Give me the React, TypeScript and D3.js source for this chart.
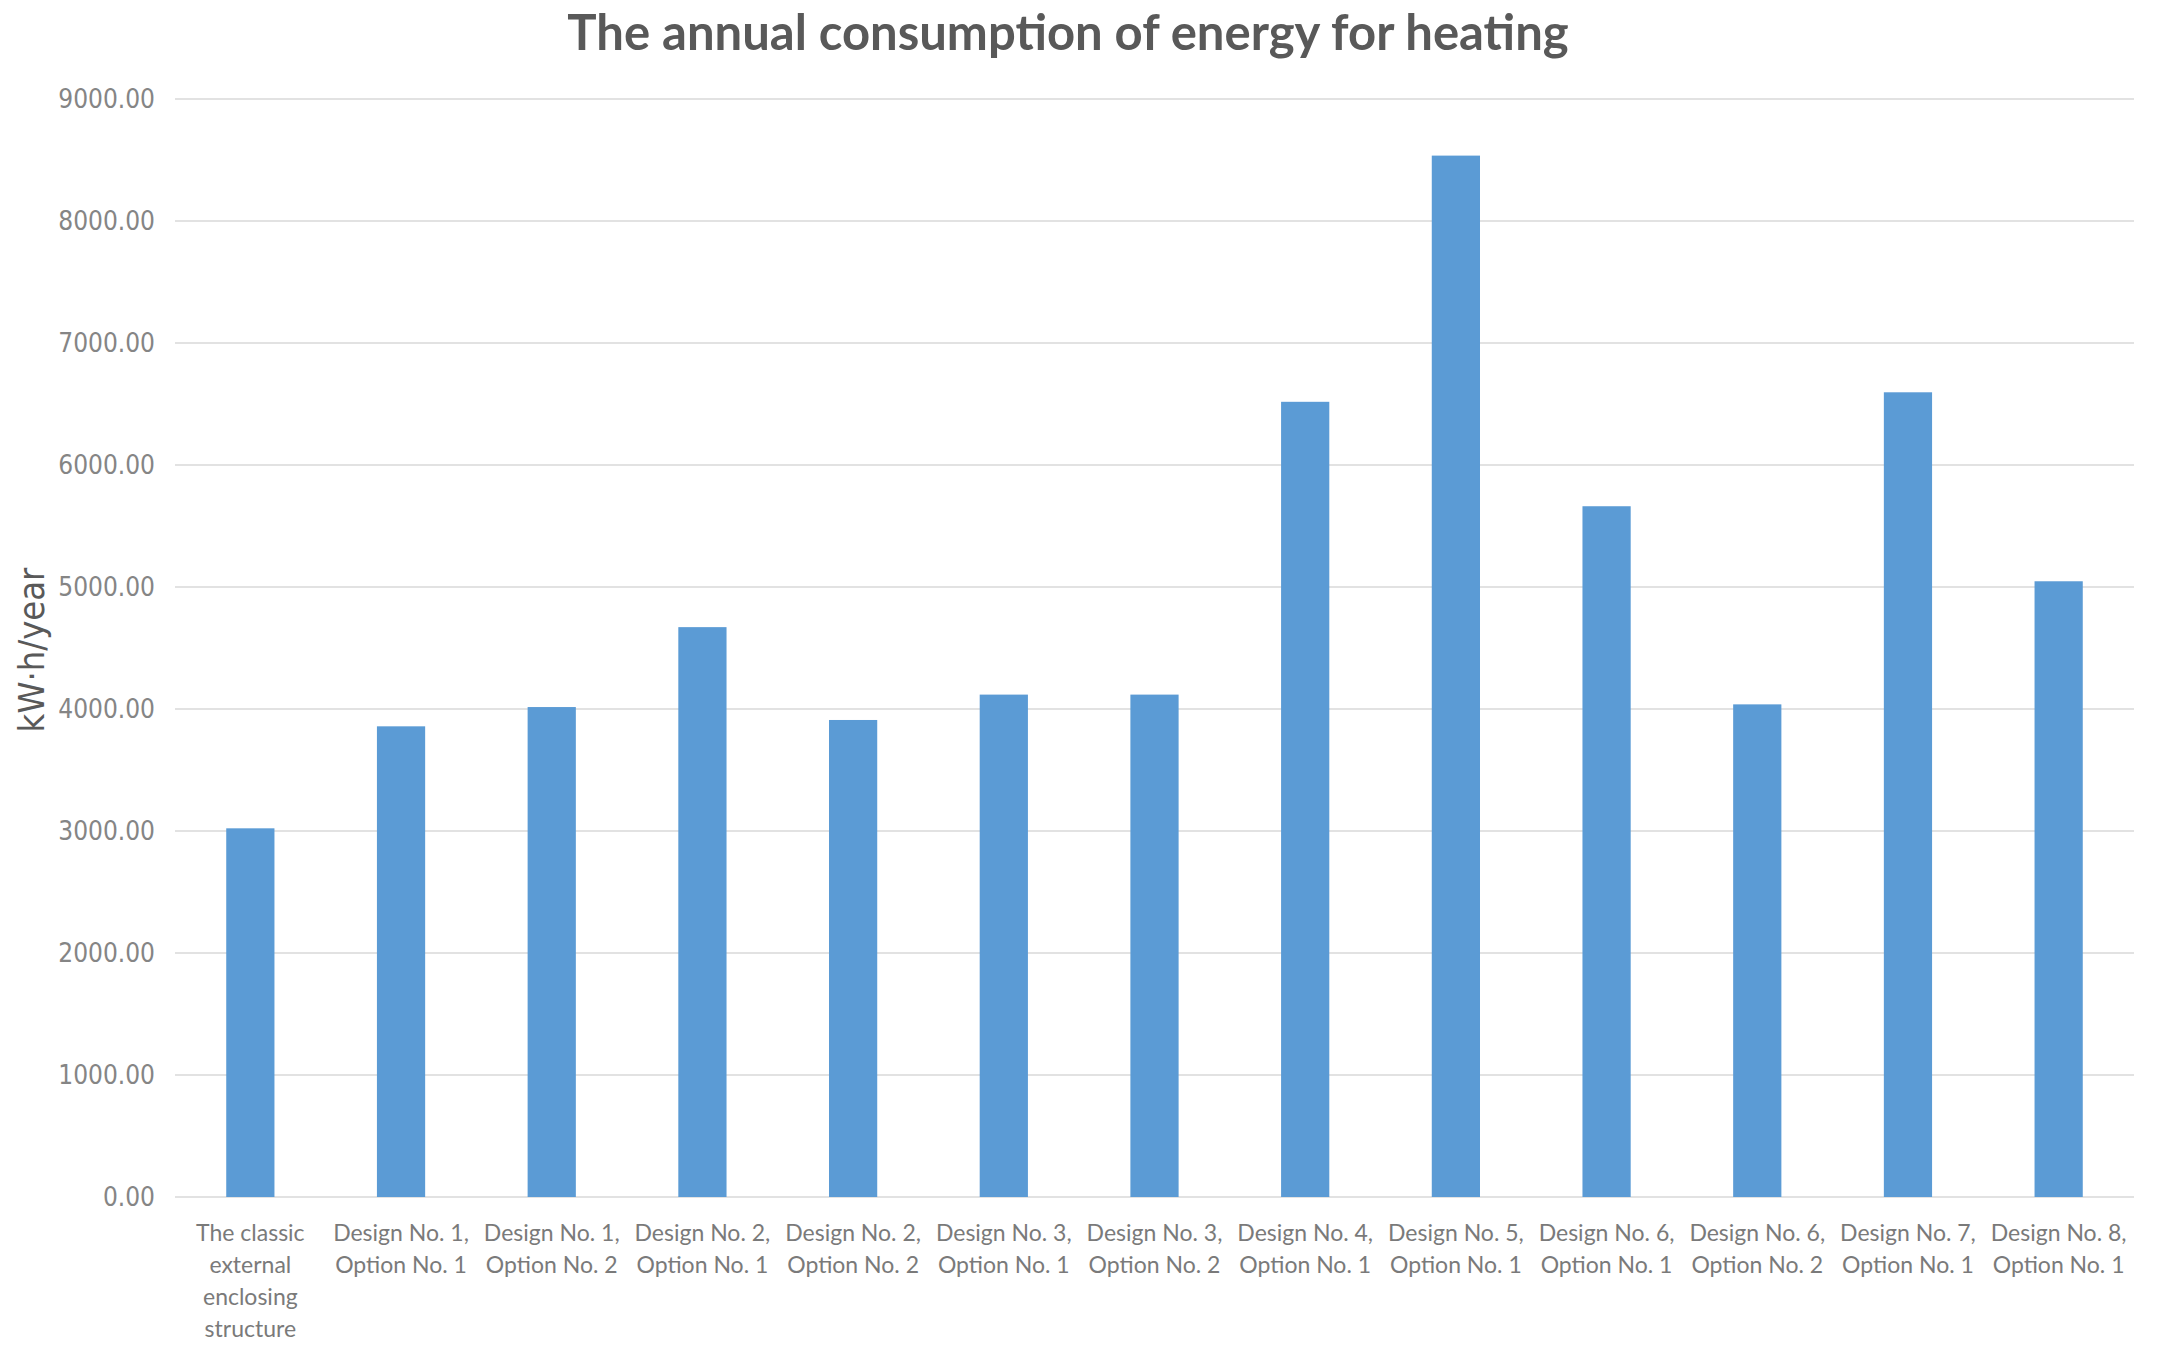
import React, { useEffect, useRef } from "react";
import * as d3 from "d3";

const categories = [
  "The classic external enclosing structure",
  "Design No. 1, Option No. 1",
  "Design No. 1, Option No. 2",
  "Design No. 2, Option No. 1",
  "Design No. 2, Option No. 2",
  "Design No. 3, Option No. 1",
  "Design No. 3, Option No. 2",
  "Design No. 4, Option No. 1",
  "Design No. 5, Option No. 1",
  "Design No. 6, Option No. 1",
  "Design No. 6, Option No. 2",
  "Design No. 7, Option No. 1",
  "Design No. 8, Option No. 1",
];

const heatingValues = [
  3022, 3858, 4016, 4671, 3910, 4118, 4118, 6518, 8536, 5662, 4038, 6596, 5047,
];

const yTicks = [0, 1000, 2000, 3000, 4000, 5000, 6000, 7000, 8000, 9000];

const chartTitle = "The annual consumption of energy for heating";
const yAxisTitle = "kW·h/year";

const WIDTH = 2163;
const HEIGHT = 1362;
const margin = { top: 99, right: 29, bottom: 165, left: 175 };

// greedy word wrap, roughly what excel does for the category labels
const wrapLabel = (label: string, maxChars: number) => {
  const words = label.split(" ");
  const lines: string[] = [];
  let line = "";
  words.forEach((w) => {
    const next = line ? line + " " + w : w;
    if (next.length > maxChars && line) {
      lines.push(line);
      line = w;
    } else {
      line = next;
    }
  });
  if (line) lines.push(line);
  return lines;
};

const App = () => {
  const svgRef = useRef<SVGSVGElement>(null);

  useEffect(() => {
    const svg = d3.select(svgRef.current);
    svg.selectAll("*").remove();

    const x = d3
      .scaleBand<string>()
      .domain(categories)
      .range([margin.left, WIDTH - margin.right])
      .paddingInner(0.68)
      .paddingOuter(0.34);

    const y = d3
      .scaleLinear()
      .domain([0, 9000])
      .range([HEIGHT - margin.bottom, margin.top]);

    svg
      .append("rect")
      .attr("width", WIDTH)
      .attr("height", HEIGHT)
      .attr("fill", "#ffffff");

    // title
    svg
      .append("text")
      .attr("x", 1068)
      .attr("y", 50)
      .attr("text-anchor", "middle")
      .attr("font-family", "Lato, 'Open Sans', sans-serif")
      .attr("font-weight", 700)
      .attr("font-size", 49)
      .attr("fill", "#595959")
      .text(chartTitle);

    // gridlines
    svg
      .append("g")
      .selectAll("line")
      .data(yTicks)
      .join("line")
      .attr("x1", margin.left)
      .attr("x2", WIDTH - margin.right)
      .attr("y1", (d) => y(d))
      .attr("y2", (d) => y(d))
      .attr("stroke", "#e2e2e2")
      .attr("stroke-width", 2);

    // y tick labels
    svg
      .append("g")
      .selectAll("text")
      .data(yTicks)
      .join("text")
      .attr("x", 155)
      .attr("y", (d) => y(d))
      .attr("dy", "0.35em")
      .attr("text-anchor", "end")
      .attr("font-family", "'DejaVu Sans Condensed', 'DejaVu Sans', sans-serif")
      .style("font-stretch", "condensed")
      .attr("font-size", 26)
      .attr("fill", "#858585")
      .text((d) => d3.format(".2f")(d));

    // y axis title
    svg
      .append("text")
      .attr("transform", `translate(44, 650) rotate(-90)`)
      .attr("text-anchor", "middle")
      .attr("font-family", "'DejaVu Sans Condensed', 'DejaVu Sans', sans-serif")
      .style("font-stretch", "condensed")
      .attr("font-size", 36)
      .attr("fill", "#595959")
      .text(yAxisTitle);

    // bars
    svg
      .append("g")
      .selectAll("rect")
      .data(heatingValues)
      .join("rect")
      .attr("x", (_, i) => x(categories[i]) ?? 0)
      .attr("y", (d) => y(d))
      .attr("width", x.bandwidth())
      .attr("height", (d) => y(0) - y(d))
      .attr("fill", "#5b9bd5");

    // category labels
    const labels = svg
      .append("g")
      .selectAll("text")
      .data(categories)
      .join("text")
      .attr("text-anchor", "middle")
      .attr("font-family", "Lato, 'Open Sans', sans-serif")
      .attr("font-size", 23)
      .attr("fill", "#7a7a7a");

    labels
      .selectAll("tspan")
      .data((d) => wrapLabel(d, 14).map((line) => ({ line, cat: d })))
      .join("tspan")
      .attr("x", (d) => (x(d.cat) ?? 0) + x.bandwidth() / 2)
      .attr("y", (_, i) => 1241 + i * 32)
      .text((d) => d.line);
  }, []);

  return (
    <div style={{ position: "absolute", left: 0, top: 0 }}>
      <svg ref={svgRef} width={WIDTH} height={HEIGHT}></svg>
    </div>
  );
};

export default App;
